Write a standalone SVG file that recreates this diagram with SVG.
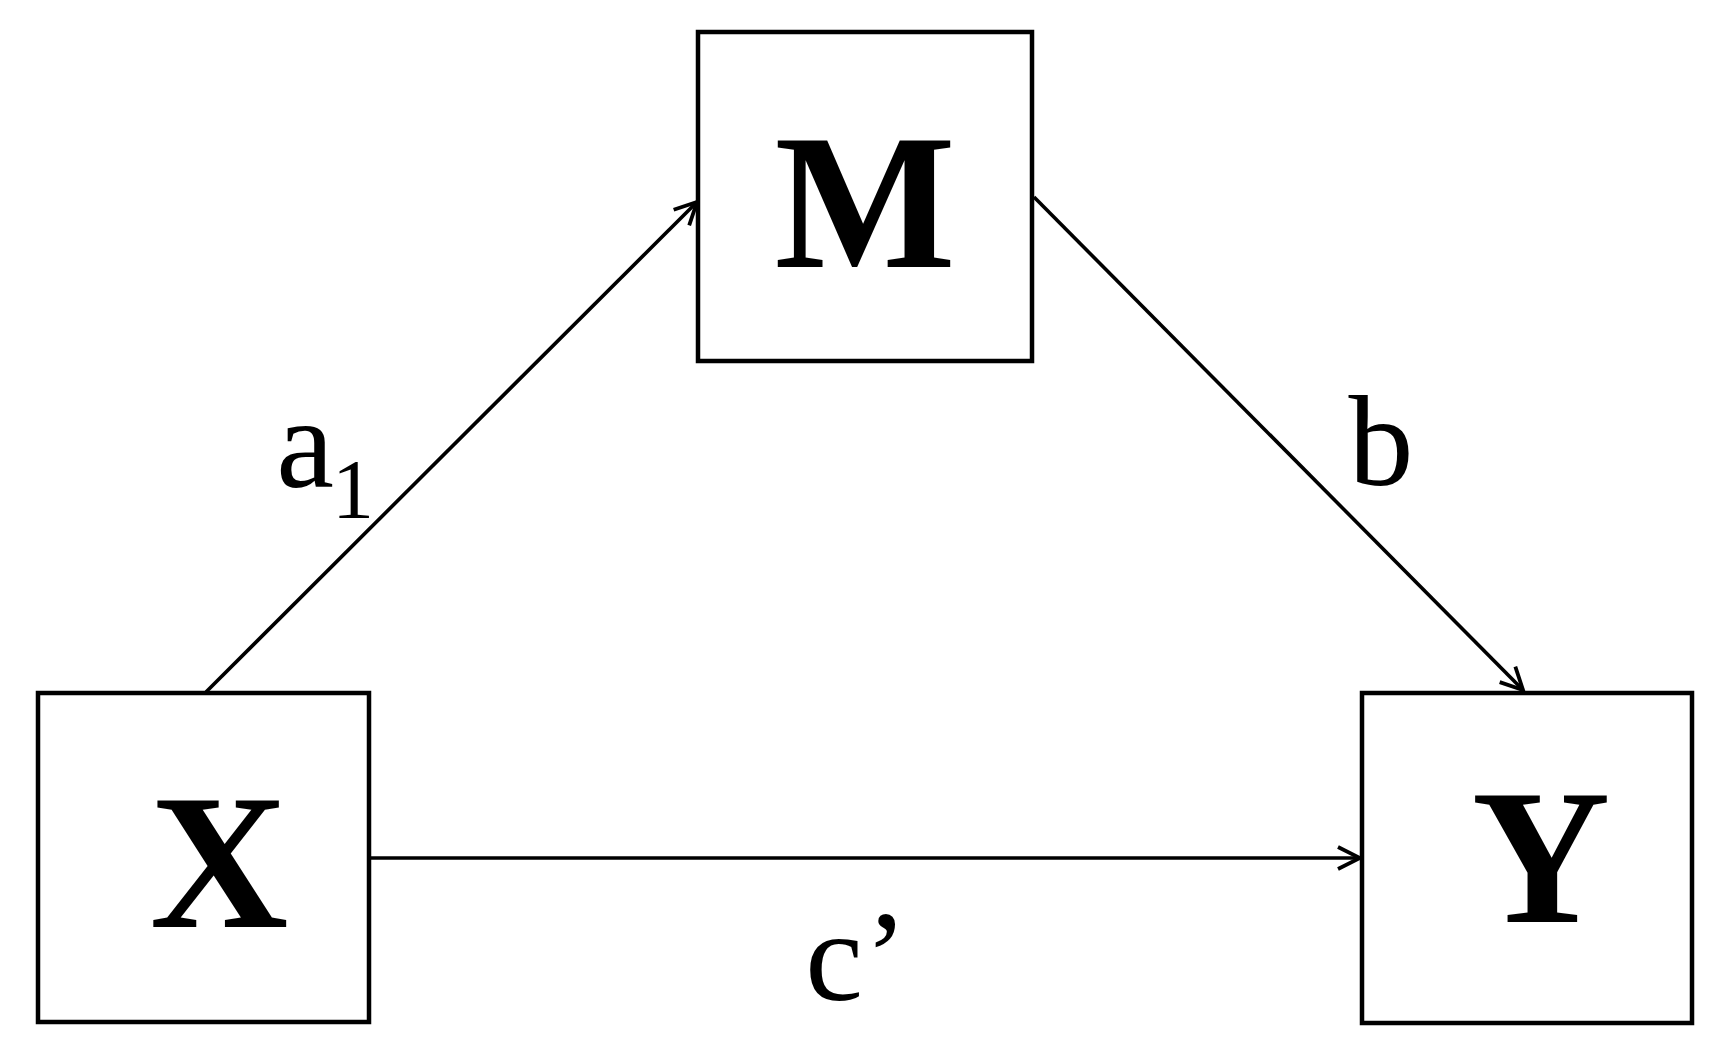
<svg xmlns="http://www.w3.org/2000/svg" width="1717" height="1045" viewBox="0 0 1717 1045">
<style>
.box{fill:#fff;stroke:#000;stroke-width:4.5}
.node{font-family:"Liberation Serif","Times New Roman",serif;font-weight:bold;font-size:192px;fill:#000;text-anchor:middle}
.lbl{font-family:"Liberation Serif","Times New Roman",serif;font-size:130px;fill:#000;text-anchor:middle}
.edge{stroke:#000;stroke-width:3.6;fill:none}
</style>
<defs>
<marker id="arr" markerUnits="userSpaceOnUse" viewBox="-26 -14 29 28" refX="0" refY="0" markerWidth="29" markerHeight="28" orient="auto">
<path d="M-22,-11 L0,0 L-22,11" fill="none" stroke="#000" stroke-width="3.8"/>
</marker>
</defs>
<rect width="1717" height="1045" fill="#fff"/>
<g id="connectors">
<line class="edge" x1="206" y1="692" x2="697" y2="202" marker-end="url(#arr)"/>
<line class="edge" x1="1034" y1="197" x2="1523" y2="690" marker-end="url(#arr)"/>
<line class="edge" x1="369" y1="858" x2="1360" y2="858" marker-end="url(#arr)"/>
<text class="lbl" y="487"><tspan x="305">a</tspan><tspan x="353" y="518" font-size="84">1</tspan></text>
<text class="lbl" x="1381" y="485">b</text>
<text class="lbl" y="1000"><tspan x="834">c</tspan><tspan x="886">’</tspan></text>
</g>
<g id="node-M">
<rect class="box" x="698" y="32" width="334" height="329"/>
<text class="node" x="865" y="267">M</text>
</g>
<g id="node-X">
<rect class="box" x="38" y="693" width="331" height="329"/>
<text class="node" x="219" y="927">X</text>
</g>
<g id="node-Y">
<rect class="box" x="1362" y="693" width="330" height="330"/>
<text class="node" x="1541" y="922">Y</text>
</g>
</svg>
